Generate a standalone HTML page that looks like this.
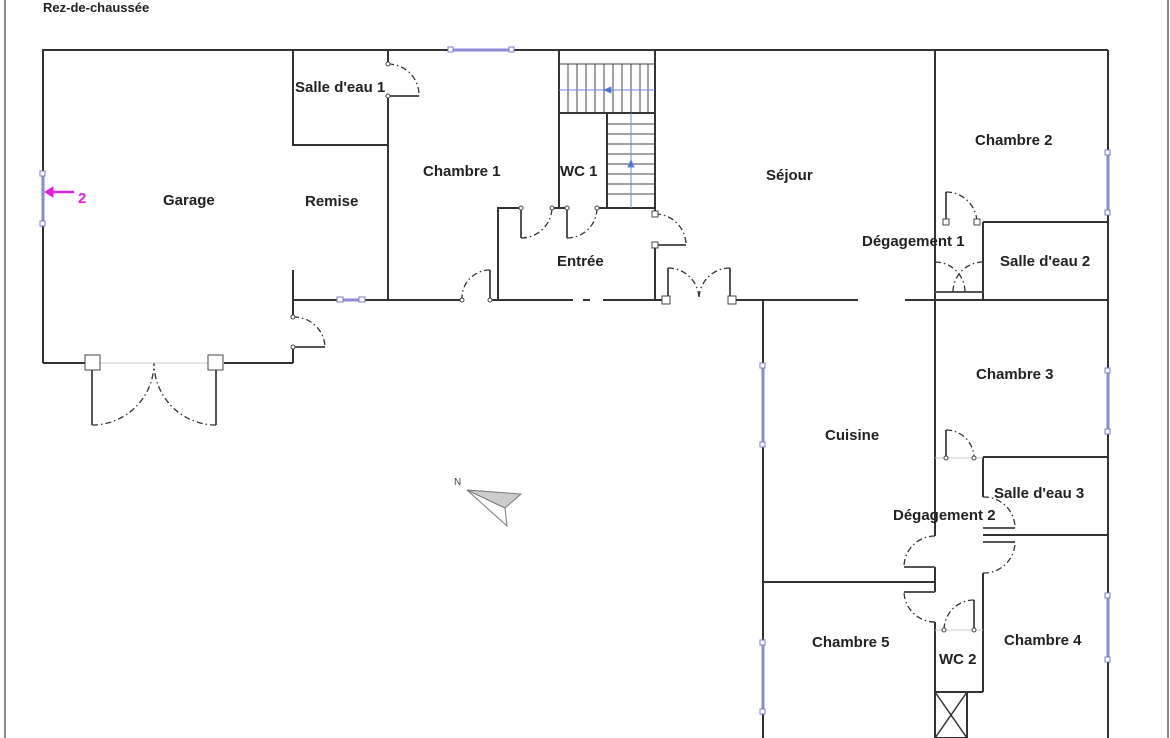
<!DOCTYPE html>
<html><head><meta charset="utf-8"><style>
html,body{margin:0;padding:0;background:#fff}
svg{display:block}
text{font-family:"Liberation Sans",sans-serif;font-weight:bold;font-size:15px;fill:#222}
</style></head><body>
<svg width="1170" height="738" viewBox="0 0 1170 738" xmlns="http://www.w3.org/2000/svg">
<rect width="1170" height="738" fill="#fff"/>
<line x1="5" y1="0" x2="5" y2="738" stroke="#666" stroke-width="1.5"/>
<line x1="1168" y1="0" x2="1168" y2="738" stroke="#666" stroke-width="1.5"/>
<text x="43" y="12" font-size="13" style="font-size:13px">Rez-de-chaussée</text>

<g stroke="#333" stroke-width="2" fill="none">
<polyline points="43,363 43,50 450,50"/>
<line x1="512" y1="50" x2="935" y2="50"/>
<line x1="935" y1="50" x2="1108" y2="50"/>
<line x1="1108" y1="50" x2="1108" y2="738"/>
<line x1="43" y1="363" x2="88" y2="363"/>
<line x1="224" y1="363" x2="293" y2="363"/>
<line x1="293" y1="363" x2="293" y2="347"/>
<line x1="293" y1="270" x2="293" y2="317"/>
<polyline points="293,50 293,145 388,145"/>
<line x1="388" y1="50" x2="388" y2="64"/>
<line x1="388" y1="96" x2="388" y2="300"/>
<line x1="293" y1="300" x2="340" y2="300"/>
<line x1="363" y1="300" x2="462" y2="300"/>
<line x1="490" y1="300" x2="573" y2="300"/>
<line x1="583" y1="300" x2="590" y2="300"/>
<line x1="603" y1="300" x2="666" y2="300"/>
<line x1="732" y1="300" x2="858" y2="300"/>
<line x1="905" y1="300" x2="1108" y2="300"/>
<polyline points="498,300 498,208 521,208"/>
<line x1="552" y1="208" x2="567" y2="208"/>
<line x1="597" y1="208" x2="655" y2="208"/>
<line x1="559" y1="50" x2="559" y2="208"/>
<line x1="655" y1="50" x2="655" y2="214"/>
<line x1="655" y1="245" x2="655" y2="300"/>
<line x1="559" y1="113" x2="655" y2="113"/>
<line x1="607" y1="113" x2="607" y2="208"/>
<line x1="935" y1="50" x2="935" y2="536"/>
<line x1="935" y1="567" x2="935" y2="592"/>
<line x1="935" y1="622" x2="935" y2="738"/>
<line x1="983" y1="222" x2="1108" y2="222"/>
<line x1="983" y1="222" x2="983" y2="300"/>
<line x1="983" y1="457" x2="1108" y2="457"/>
<line x1="983" y1="457" x2="983" y2="497"/>
<line x1="983" y1="535" x2="1108" y2="535"/>
<line x1="983" y1="573" x2="983" y2="692"/>
<line x1="763" y1="300" x2="763" y2="738"/>
<line x1="763" y1="582" x2="935" y2="582"/>
<line x1="935" y1="692" x2="983" y2="692"/>
<rect x="935" y="692" width="32" height="46"/>
<line x1="935" y1="692" x2="967" y2="738" stroke-width="1.5"/>
<line x1="967" y1="692" x2="935" y2="738" stroke-width="1.5"/>
</g>

<g stroke="#444" stroke-width="1">
<line x1="559" y1="64" x2="655" y2="64"/>
<line x1="568" y1="64" x2="568" y2="113"/><line x1="577" y1="64" x2="577" y2="113"/><line x1="586" y1="64" x2="586" y2="113"/><line x1="595" y1="64" x2="595" y2="113"/><line x1="604" y1="64" x2="604" y2="113"/><line x1="613" y1="64" x2="613" y2="113"/><line x1="622" y1="64" x2="622" y2="113"/><line x1="631" y1="64" x2="631" y2="113"/><line x1="640" y1="64" x2="640" y2="113"/><line x1="648" y1="64" x2="648" y2="113"/>
<line x1="607" y1="124" x2="655" y2="124"/><line x1="607" y1="134" x2="655" y2="134"/><line x1="607" y1="144" x2="655" y2="144"/><line x1="607" y1="154" x2="655" y2="154"/><line x1="607" y1="164" x2="655" y2="164"/><line x1="607" y1="174" x2="655" y2="174"/><line x1="607" y1="184" x2="655" y2="184"/><line x1="607" y1="194" x2="655" y2="194"/>
</g>
<g stroke="#6a8ad8" stroke-width="1" fill="#4a6ad0">
<line x1="559" y1="90" x2="655" y2="90"/>
<line x1="631" y1="113" x2="631" y2="208"/>
<polygon points="604,90 611,87 611,93"/>
<polygon points="631,160 628,167 634,167"/>
</g>

<g stroke="#8a8ad8" stroke-width="3" fill="#fff">
<line x1="450" y1="50" x2="512" y2="50"/>
<line x1="43" y1="174" x2="43" y2="223"/>
<line x1="340" y1="300" x2="363" y2="300"/>
<line x1="1108" y1="152" x2="1108" y2="213"/>
<line x1="1108" y1="370" x2="1108" y2="432"/>
<line x1="1108" y1="595" x2="1108" y2="660"/>
<line x1="763" y1="365" x2="763" y2="445"/>
<line x1="763" y1="642" x2="763" y2="712"/>
</g>
<g stroke="#7a7ac8" stroke-width="1" fill="#fff">
<rect x="448" y="47" width="5" height="5"/><rect x="509" y="47" width="5" height="5"/>
<rect x="40" y="171" width="5" height="5"/><rect x="40" y="221" width="5" height="5"/>
<rect x="337" y="297" width="6" height="5"/><rect x="359" y="297" width="6" height="5"/>
<rect x="1105" y="150" width="5" height="5"/><rect x="1105" y="210" width="5" height="5"/>
<rect x="1105" y="368" width="5" height="5"/><rect x="1105" y="429" width="5" height="5"/>
<rect x="1105" y="593" width="5" height="5"/><rect x="1105" y="657" width="5" height="5"/>
<rect x="760" y="363" width="5" height="5"/><rect x="760" y="442" width="5" height="5"/>
<rect x="760" y="640" width="5" height="5"/><rect x="760" y="709" width="5" height="5"/>
</g>
<g stroke="#e020e0" fill="#e020e0">
<line x1="50" y1="192" x2="74" y2="192" stroke-width="2.5"/>
<polygon points="45,192 53,187 53,197"/>
</g>
<text x="78" y="203" style="fill:#e020e0">2</text>

<g stroke="#555" stroke-width="2" fill="none">
<line x1="92" y1="363" x2="92" y2="425"/><line x1="216" y1="363" x2="216" y2="425"/>
<line x1="388" y1="96" x2="419" y2="96"/>
<line x1="293" y1="347" x2="325" y2="347"/>
<line x1="490" y1="300" x2="490" y2="270"/>
<line x1="521" y1="208" x2="521" y2="238"/>
<line x1="567" y1="208" x2="567" y2="238"/>
<line x1="655" y1="245" x2="686" y2="245"/>
<line x1="668" y1="300" x2="668" y2="268"/><line x1="730" y1="300" x2="730" y2="268"/>
<line x1="946" y1="222" x2="946" y2="192"/>
<line x1="935" y1="292" x2="983" y2="292"/>
<line x1="946" y1="458" x2="946" y2="430"/>
<line x1="983" y1="528" x2="1015" y2="528"/><line x1="983" y1="542" x2="1015" y2="542"/>
<line x1="935" y1="567" x2="904" y2="567"/><line x1="935" y1="592" x2="904" y2="592"/>
<line x1="974" y1="630" x2="974" y2="600"/>
</g>
<g stroke="#333" stroke-width="1.3" fill="none" stroke-dasharray="6,3,1.5,3">
<path d="M92,425 A62,62 0 0 0 154,363"/>
<path d="M216,425 A62,62 0 0 1 154,363"/>
<path d="M388,64 A31,31 0 0 1 419,96"/>
<path d="M293,317 A31,31 0 0 1 325,347"/>
<path d="M490,270 A28,28 0 0 0 462,300"/>
<path d="M521,238 A31,31 0 0 0 552,208"/>
<path d="M567,238 A30,30 0 0 0 597,208"/>
<path d="M655,214 A31,31 0 0 1 686,245"/>
<path d="M668,268 A31,31 0 0 1 699,300"/>
<path d="M730,268 A31,31 0 0 0 699,300"/>
<path d="M946,192 A31,31 0 0 1 977,222"/>
<path d="M935,262 A30,30 0 0 1 965,292"/>
<path d="M983,262 A30,30 0 0 0 953,292"/>
<path d="M946,430 A28,28 0 0 1 974,458"/>
<path d="M983,497 A31,31 0 0 1 1015,528"/>
<path d="M983,573 A31,31 0 0 0 1015,542"/>
<path d="M935,536 A31,31 0 0 0 904,567"/>
<path d="M935,622 A31,31 0 0 1 904,592"/>
<path d="M974,600 A30,30 0 0 0 944,630"/>
</g>
<g stroke="#ccc" stroke-width="1">
<line x1="100" y1="363" x2="208" y2="363"/>
<line x1="935" y1="630" x2="983" y2="630"/>
<line x1="935" y1="458" x2="983" y2="458"/>
</g>
<g stroke="#444" stroke-width="1" fill="#fff">
<rect x="85" y="355" width="15" height="15"/><rect x="208" y="355" width="15" height="15"/>
<rect x="662" y="296" width="8" height="8"/><rect x="728" y="296" width="8" height="8"/>
<circle cx="388" cy="64" r="2"/><circle cx="388" cy="96" r="2"/>
<circle cx="293" cy="317" r="2"/><circle cx="293" cy="347" r="2"/>
<circle cx="462" cy="300" r="2"/><circle cx="490" cy="300" r="2"/>
<circle cx="521" cy="208" r="2"/><circle cx="552" cy="208" r="2"/>
<circle cx="567" cy="208" r="2"/><circle cx="597" cy="208" r="2"/>
<rect x="652" y="211" width="6" height="6"/><rect x="652" y="242" width="6" height="6"/>
<rect x="943" y="219" width="6" height="6"/><rect x="974" y="219" width="6" height="6"/>
<circle cx="946" cy="458" r="2"/><circle cx="974" cy="458" r="2"/>
<circle cx="944" cy="630" r="2"/><circle cx="974" cy="630" r="2"/>
</g>

<text x="454" y="485" style="font-size:10px;font-weight:normal;fill:#444">N</text>
<polygon points="467,490 521,494 505,508" fill="#ccc" stroke="#777" stroke-width="1"/>
<polyline points="467,490 507,526 505,508" fill="none" stroke="#777" stroke-width="1"/>

<text x="163" y="205">Garage</text>
<text x="305" y="206">Remise</text>
<text x="295" y="92">Salle d'eau 1</text>
<text x="423" y="176">Chambre 1</text>
<text x="560" y="176">WC 1</text>
<text x="557" y="266">Entrée</text>
<text x="766" y="180">Séjour</text>
<text x="975" y="145">Chambre 2</text>
<text x="862" y="246">Dégagement 1</text>
<text x="1000" y="266">Salle d'eau 2</text>
<text x="976" y="379">Chambre 3</text>
<text x="825" y="440">Cuisine</text>
<text x="994" y="498">Salle d'eau 3</text>
<text x="893" y="520">Dégagement 2</text>
<text x="812" y="647">Chambre 5</text>
<text x="1004" y="645">Chambre 4</text>
<text x="939" y="664">WC 2</text>
</svg>
</body></html>
